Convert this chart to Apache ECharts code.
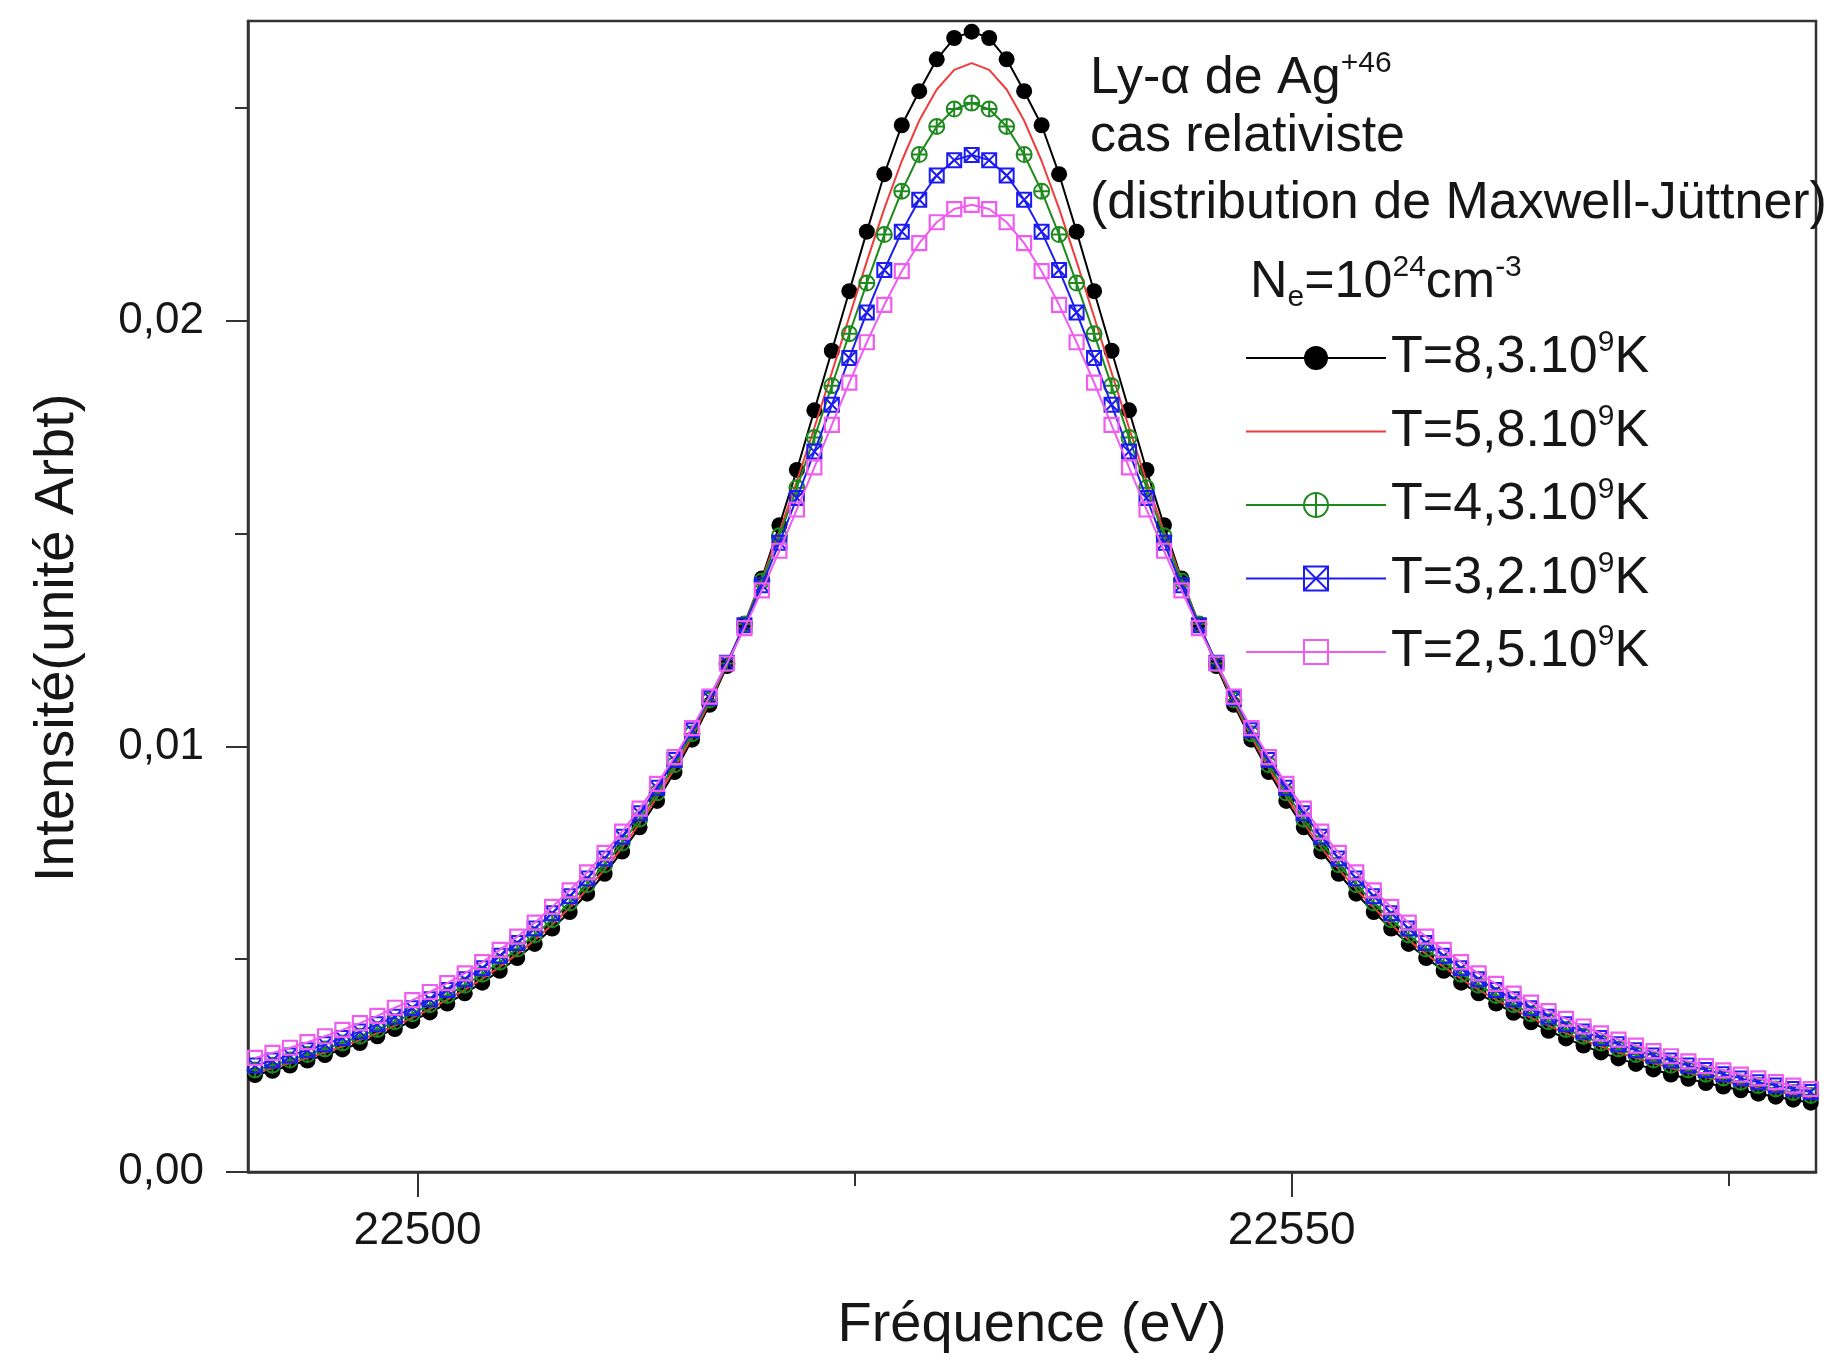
<!DOCTYPE html>
<html>
<head>
<meta charset="utf-8">
<title>Ly-α de Ag+46 – cas relativiste</title>
<script src="https://cdn.jsdelivr.net/npm/echarts@6/dist/echarts.min.js"></script>
<style>
  html, body { margin: 0; padding: 0; background: #ffffff; }
  #chart { width: 1826px; height: 1360px; }
</style>
</head>
<body>
<div id="chart"></div>
<script>
// Photon energy grid (eV), 1 eV step
const energies = [
  22490.7, 22491.7, 22492.7, 22493.7, 22494.7, 22495.7, 22496.7, 22497.7, 22498.7, 22499.7,
  22500.7, 22501.7, 22502.7, 22503.7, 22504.7, 22505.7, 22506.7, 22507.7, 22508.7, 22509.7,
  22510.7, 22511.7, 22512.7, 22513.7, 22514.7, 22515.7, 22516.7, 22517.7, 22518.7, 22519.7,
  22520.7, 22521.7, 22522.7, 22523.7, 22524.7, 22525.7, 22526.7, 22527.7, 22528.7, 22529.7,
  22530.7, 22531.7, 22532.7, 22533.7, 22534.7, 22535.7, 22536.7, 22537.7, 22538.7, 22539.7,
  22540.7, 22541.7, 22542.7, 22543.7, 22544.7, 22545.7, 22546.7, 22547.7, 22548.7, 22549.7,
  22550.7, 22551.7, 22552.7, 22553.7, 22554.7, 22555.7, 22556.7, 22557.7, 22558.7, 22559.7,
  22560.7, 22561.7, 22562.7, 22563.7, 22564.7, 22565.7, 22566.7, 22567.7, 22568.7, 22569.7,
  22570.7, 22571.7, 22572.7, 22573.7, 22574.7, 22575.7, 22576.7, 22577.7, 22578.7, 22579.7
];

// Temperature labels (units of 10^9 K)
const tempLabels = ['8,3', '5,8', '4,3', '3,2', '2,5'];

// Line intensity (arbitrary units), one array per temperature
const intensT83 = [
  0.00228, 0.00238, 0.00250, 0.00262, 0.00275, 0.00288, 0.00303, 0.00319, 0.00336, 0.00355,
  0.00375, 0.00396, 0.00420, 0.00445, 0.00473, 0.00503, 0.00536, 0.00572, 0.00611, 0.00654,
  0.00701, 0.00753, 0.00810, 0.00872, 0.00940, 0.01016, 0.01098, 0.01189, 0.01287, 0.01395,
  0.01520, 0.01650, 0.01790, 0.01930, 0.02070, 0.02210, 0.02345, 0.02460, 0.02540, 0.02615,
  0.02665, 0.02680,
  0.02665, 0.02615, 0.02540, 0.02460, 0.02345, 0.02210, 0.02070, 0.01930, 0.01790, 0.01650,
  0.01520, 0.01395, 0.01287, 0.01189, 0.01098, 0.01016, 0.00940, 0.00872, 0.00810, 0.00753,
  0.00701, 0.00654, 0.00611, 0.00572, 0.00536, 0.00503, 0.00473, 0.00445, 0.00420, 0.00396,
  0.00374, 0.00352, 0.00332, 0.00314, 0.00297, 0.00281, 0.00267, 0.00254, 0.00241, 0.00229,
  0.00219, 0.00209, 0.00201, 0.00192, 0.00184, 0.00177, 0.00170, 0.00163
];
const intensT58 = [
  0.00233, 0.00244, 0.00256, 0.00268, 0.00281, 0.00295, 0.00310, 0.00326, 0.00344, 0.00362,
  0.00383, 0.00405, 0.00428, 0.00454, 0.00482, 0.00512, 0.00545, 0.00581, 0.00621, 0.00664,
  0.00711, 0.00762, 0.00819, 0.00881, 0.00948, 0.01023, 0.01104, 0.01193, 0.01289, 0.01393,
  0.01505, 0.01624, 0.01749, 0.01879, 0.02010, 0.02140, 0.02264, 0.02376, 0.02471, 0.02544,
  0.02590, 0.02606,
  0.02590, 0.02544, 0.02471, 0.02376, 0.02264, 0.02140, 0.02010, 0.01879, 0.01749, 0.01624,
  0.01505, 0.01393, 0.01289, 0.01193, 0.01104, 0.01023, 0.00948, 0.00881, 0.00819, 0.00762,
  0.00711, 0.00664, 0.00621, 0.00581, 0.00545, 0.00512, 0.00482, 0.00454, 0.00428, 0.00405,
  0.00383, 0.00362, 0.00344, 0.00326, 0.00310, 0.00295, 0.00281, 0.00268, 0.00256, 0.00244,
  0.00233, 0.00223, 0.00214, 0.00205, 0.00197, 0.00189, 0.00182, 0.00175
];
const intensT43 = [
  0.00240, 0.00251, 0.00263, 0.00276, 0.00289, 0.00303, 0.00319, 0.00335, 0.00353, 0.00372,
  0.00393, 0.00415, 0.00439, 0.00465, 0.00493, 0.00524, 0.00557, 0.00593, 0.00632, 0.00675,
  0.00722, 0.00773, 0.00829, 0.00891, 0.00957, 0.01030, 0.01109, 0.01195, 0.01288, 0.01389,
  0.01495, 0.01608, 0.01726, 0.01848, 0.01970, 0.02089, 0.02203, 0.02305, 0.02391, 0.02457,
  0.02498, 0.02512,
  0.02498, 0.02457, 0.02391, 0.02305, 0.02203, 0.02089, 0.01970, 0.01848, 0.01726, 0.01608,
  0.01495, 0.01389, 0.01288, 0.01195, 0.01109, 0.01030, 0.00957, 0.00891, 0.00829, 0.00773,
  0.00722, 0.00675, 0.00632, 0.00593, 0.00557, 0.00524, 0.00493, 0.00465, 0.00439, 0.00415,
  0.00393, 0.00372, 0.00353, 0.00335, 0.00319, 0.00303, 0.00289, 0.00276, 0.00263, 0.00251,
  0.00240, 0.00230, 0.00221, 0.00211, 0.00203, 0.00195, 0.00187, 0.00180
];
const intensT32 = [
  0.00250, 0.00262, 0.00274, 0.00286, 0.00300, 0.00315, 0.00330, 0.00347, 0.00365, 0.00385,
  0.00406, 0.00428, 0.00453, 0.00479, 0.00508, 0.00538, 0.00572, 0.00608, 0.00648, 0.00690,
  0.00737, 0.00788, 0.00843, 0.00903, 0.00968, 0.01038, 0.01114, 0.01197, 0.01285, 0.01379,
  0.01479, 0.01584, 0.01693, 0.01803, 0.01913, 0.02020, 0.02120, 0.02210, 0.02285, 0.02342,
  0.02378, 0.02390,
  0.02378, 0.02342, 0.02285, 0.02210, 0.02120, 0.02020, 0.01913, 0.01803, 0.01693, 0.01584,
  0.01479, 0.01379, 0.01285, 0.01197, 0.01114, 0.01038, 0.00968, 0.00903, 0.00843, 0.00788,
  0.00737, 0.00690, 0.00648, 0.00608, 0.00572, 0.00538, 0.00508, 0.00479, 0.00453, 0.00428,
  0.00406, 0.00385, 0.00365, 0.00347, 0.00330, 0.00315, 0.00300, 0.00286, 0.00274, 0.00262,
  0.00250, 0.00240, 0.00230, 0.00220, 0.00211, 0.00203, 0.00195, 0.00188
];
const intensT25 = [
  0.00268, 0.00280, 0.00292, 0.00305, 0.00319, 0.00334, 0.00350, 0.00367, 0.00386, 0.00404,
  0.00423, 0.00444, 0.00467, 0.00493, 0.00522, 0.00553, 0.00586, 0.00623, 0.00662, 0.00704,
  0.00750, 0.00800, 0.00854, 0.00912, 0.00975, 0.01043, 0.01117, 0.01195, 0.01278, 0.01367,
  0.01460, 0.01557, 0.01656, 0.01756, 0.01855, 0.01950, 0.02038, 0.02117, 0.02183, 0.02232,
  0.02263, 0.02273,
  0.02263, 0.02232, 0.02183, 0.02117, 0.02038, 0.01950, 0.01855, 0.01756, 0.01656, 0.01557,
  0.01460, 0.01367, 0.01278, 0.01195, 0.01117, 0.01043, 0.00975, 0.00912, 0.00854, 0.00800,
  0.00750, 0.00704, 0.00662, 0.00623, 0.00586, 0.00553, 0.00522, 0.00493, 0.00467, 0.00442,
  0.00419, 0.00398, 0.00378, 0.00360, 0.00342, 0.00326, 0.00311, 0.00297, 0.00284, 0.00272,
  0.00260, 0.00249, 0.00239, 0.00229, 0.00220, 0.00211, 0.00203, 0.00195
];

// Axis ticks
const xMajorTicks = [22500, 22550];
const yMajorTicks = [0, 0.01, 0.02];

const FONT = '"Liberation Sans", Arial, Helvetica, sans-serif';
const INK = '#161616';

// Marker shapes
const circlePlus = 'path://M0,10A10,10,0,1,1,20,10A10,10,0,1,1,0,10Z M10,0L10,20 M0,10L20,10';
const boxCross = 'path://M0,0L20,0L20,20L0,20Z M0,0L20,20 M20,0L0,20';
const openSquare = 'path://M0,0L20,0L20,20L0,20Z';

const seriesDefs = [
  { name: tempLabels[0], values: intensT83, color: '#000000', symbol: 'circle', size: 16, fill: '#000000', border: 0 },
  { name: tempLabels[1], values: intensT58, color: '#f03c3c', symbol: 'circle', size: 0, fill: '#f03c3c', border: 0, noMarker: true },
  { name: tempLabels[2], values: intensT43, color: '#1e8a1e', symbol: circlePlus, size: 15, fill: 'rgba(0,0,0,0)', border: 2 },
  { name: tempLabels[3], values: intensT32, color: '#1c1cf0', symbol: boxCross, size: 14, fill: 'rgba(0,0,0,0)', border: 2 },
  { name: tempLabels[4], values: intensT25, color: '#ef5cef', symbol: openSquare, size: 14, fill: 'rgba(0,0,0,0)', border: 2.2 }
];

const series = seriesDefs.map((d, i) => ({
  name: d.name,
  type: 'line',
  data: energies.map((e, k) => [e, d.values[k]]),
  symbol: d.symbol,
  symbolSize: d.size,
  showSymbol: !d.noMarker,
  lineStyle: { color: d.color, width: 2 },
  itemStyle: { color: d.fill, borderColor: d.color, borderWidth: d.border },
  emphasis: { disabled: true },
  z: 2 + i,
  animation: false
}));

const legendData = seriesDefs.map(d => d.noMarker
  ? { name: d.name, icon: 'path://M0,0L140,0L140,2L0,2Z' }
  : { name: d.name });

const chart = echarts.init(document.getElementById('chart'), null, { renderer: 'canvas' });

chart.setOption({
  backgroundColor: '#ffffff',
  animation: false,
  grid: {
    left: 248, right: 10, top: 21, bottom: 188,
    show: true, borderColor: '#333333', borderWidth: 2.5, backgroundColor: 'transparent'
  },
  xAxis: {
    type: 'value',
    min: 22490.3,
    max: 22580,
    splitNumber: 2,
    name: 'Fréquence (eV)',
    nameLocation: 'middle',
    nameGap: 126,
    nameTextStyle: { fontFamily: FONT, fontSize: 56, color: INK },
    axisLine: { show: true, lineStyle: { color: '#333333', width: 2.5 } },
    axisTick: { show: true, length: 25, customValues: xMajorTicks, lineStyle: { color: '#333333', width: 2 } },
    minorTick: { show: true, splitNumber: 2, length: 14, lineStyle: { color: '#333333', width: 2 } },
    axisLabel: {
      customValues: xMajorTicks,
      margin: 36,
      fontFamily: FONT, fontSize: 46, color: INK,
      formatter: v => String(Math.round(v))
    },
    splitLine: { show: false }
  },
  yAxis: {
    type: 'value',
    min: 0,
    max: 0.02705,
    splitNumber: 3,
    axisLine: { show: true, lineStyle: { color: '#333333', width: 2.5 } },
    axisTick: { show: true, length: 22, customValues: yMajorTicks, lineStyle: { color: '#333333', width: 2 } },
    minorTick: { show: true, splitNumber: 2, length: 13, lineStyle: { color: '#333333', width: 2 } },
    axisLabel: {
      customValues: yMajorTicks,
      margin: 44,
      fontFamily: FONT, fontSize: 44, color: INK,
      formatter: v => v.toFixed(2).replace('.', ',')
    },
    splitLine: { show: false }
  },
  legend: {
    orient: 'vertical',
    left: 1245,
    top: 328,
    padding: 0,
    itemGap: 17.5,
    itemWidth: 140,
    itemHeight: 30,
    selectedMode: false,
    data: legendData,
    formatter: name => '{t|T=' + name + '.10}{sup|9}{t|K}',
    textStyle: {
      color: INK,
      fontFamily: FONT,
      rich: {
        t: { fontFamily: FONT, fontSize: 52, lineHeight: 60, color: INK },
        sup: { fontFamily: FONT, fontSize: 30, lineHeight: 40, verticalAlign: 'top', color: INK }
      }
    }
  },
  graphic: [
    {
      type: 'text', x: 1090, y: 79, silent: true,
      style: {
        text: '{m|Ly-α de Ag}{s|+46}',
        verticalAlign: 'middle',
        rich: {
          m: { fontFamily: FONT, fontSize: 52, lineHeight: 60, fill: INK },
          s: { fontFamily: FONT, fontSize: 30, lineHeight: 36, verticalAlign: 'top', fill: INK }
        }
      }
    },
    {
      type: 'text', x: 1090, y: 137, silent: true,
      style: { text: 'cas relativiste', font: '52px ' + FONT, fill: INK, verticalAlign: 'middle' }
    },
    {
      type: 'text', x: 1090, y: 204, silent: true,
      style: { text: '(distribution de Maxwell-Jüttner)', font: '52px ' + FONT, fill: INK, verticalAlign: 'middle' }
    },
    {
      type: 'text', x: 1250, y: 283, silent: true,
      style: {
        text: '{m|N}{b|e}{m|=10}{s|24}{m|cm}{s|-3}',
        verticalAlign: 'middle',
        rich: {
          m: { fontFamily: FONT, fontSize: 52, lineHeight: 60, fill: INK },
          s: { fontFamily: FONT, fontSize: 30, lineHeight: 36, verticalAlign: 'top', fill: INK },
          b: { fontFamily: FONT, fontSize: 30, lineHeight: 24, verticalAlign: 'bottom', fill: INK }
        }
      }
    },
    {
      type: 'text', x: 58, y: 638, rotation: Math.PI / 2, silent: true,
      style: {
        text: 'Intensité(unité Arbt)', font: '56px ' + FONT, fill: INK,
        align: 'center', verticalAlign: 'middle'
      }
    }
  ],
  series: series
});
</script>
</body>
</html>
